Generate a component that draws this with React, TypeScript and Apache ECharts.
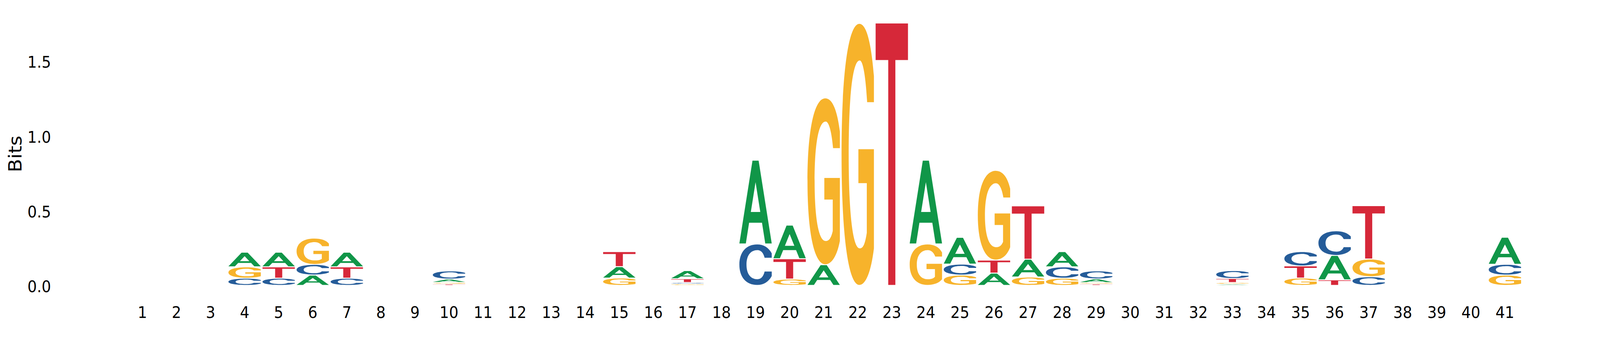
import React, { useEffect, useRef, useState } from "react";
import * as echarts from "echarts";

// Sequence positions (x categories)
const positions = [
  1, 2, 3, 4, 5, 6, 7, 8, 9, 10, 11, 12, 13, 14, 15, 16, 17, 18, 19, 20, 21,
  22, 23, 24, 25, 26, 27, 28, 29, 30, 31, 32, 33, 34, 35, 36, 37, 38, 39, 40, 41,
];

// Information content (bits) per letter per position
const bitsA = [
  0, 0, 0, 0.098, 0.098, 0.069, 0.098, 0, 0, 0.022, 0, 0, 0, 0, 0.076, 0, 0.055, 0, 0.56, 0.225, 0.138,
  0, 0, 0.56, 0.179, 0.082, 0.119, 0.102, 0.024, 0, 0, 0, 0.008, 0, 0, 0.163, 0, 0, 0, 0, 0.181,
];
const bitsC = [
  0, 0, 0, 0.048, 0.048, 0.071, 0.048, 0, 0, 0.055, 0, 0, 0, 0, 0, 0, 0.01, 0, 0.277, 0, 0,
  0, 0, 0, 0.073, 0, 0, 0.076, 0.054, 0, 0, 0, 0.053, 0, 0.096, 0.165, 0.058, 0, 0, 0, 0.072,
];
const bitsG = [
  0, 0, 0, 0.076, 0, 0.176, 0, 0, 0, 0.011, 0, 0, 0, 0, 0.049, 0, 0.009, 0, 0, 0.042, 1.116,
  1.752, 0, 0.277, 0.069, 0.6, 0.056, 0.048, 0.01, 0, 0, 0, 0.011, 0, 0.049, 0, 0.118, 0, 0, 0, 0.069,
];
const bitsT = [
  0, 0, 0, 0, 0.076, 0, 0.076, 0, 0, 0.009, 0, 0, 0, 0, 0.101, 0, 0.025, 0, 0, 0.136, 0,
  0, 1.755, 0, 0, 0.087, 0.357, 0, 0.009, 0, 0, 0, 0.027, 0, 0.081, 0.037, 0.357, 0, 0, 0, 0,
];

const yTicks = [0, 0.5, 1.0, 1.5];
const yTickLabels = ["0.0", "0.5", "1.0", "1.5"];
const yMax = 1.755;
const yAxisTitle = "Bits";

const letters = ["A", "C", "G", "T"];
const letterColors = ["#109648", "#255C99", "#F7B32B", "#D62839"];

// Glyph outlines in a 100x100 box (stretched to fill each letter's slot)
const GLYPHS: Record<string, string> = {
  A: "M0,100 L40.5,0 L59.5,0 L100,100 L80,100 L69.9,75 L30.1,75 L20,100 Z M35.4,62 L64.6,62 L50,26 Z",
  C:
    "M100,22 C90,7 74,0 55,0 C20,0 0,20 0,50 C0,80 20,100 55,100 C74,100 90,93 100,78 " +
    "L100,67 L78,67 C74,80 66,86 56,86 C35,86 22,73 22,50 C22,27 35,14 56,14 C66,14 74,20 78,33 L100,33 Z",
  G:
    "M100,20 C91,6 75,0 55,0 C20,0 0,20 0,50 C0,80 20,100 55,100 C75,100 91,95 100,86 " +
    "L100,48 L52,48 L52,61 L78,61 L78,80 C72,85 65,86 56,86 C35,86 22,73 22,50 C22,27 35,14 56,14 " +
    "C67,14 75,21 79,30 L100,30 Z",
  T: "M0,0 L100,0 L100,14 L61,14 L61,100 L39,100 L39,14 L0,14 Z",
};

const FONT = "DejaVu Sans";

function buildData() {
  const out: number[][] = [];
  const cols = [bitsA, bitsC, bitsG, bitsT];
  positions.forEach((p, i) => {
    const stack = cols
      .map((arr, li) => ({ li, h: arr[i] }))
      .filter((d) => d.h > 0)
      .sort((a, b) => a.h - b.h);
    let y = 0;
    stack.forEach((d) => {
      out.push([p, y, y + d.h, d.li]);
      y += d.h;
    });
  });
  return out;
}

export default function App() {
  const ref = useRef<HTMLDivElement>(null);
  const [size] = useState(() => ({
    w: (typeof window !== "undefined" && window.innerWidth) || 4500,
    h: (typeof window !== "undefined" && window.innerHeight) || 900,
  }));
  useEffect(() => {
    if (!ref.current) return;
    const kx = size.w / 4500;
    const ky = size.h / 900;
    const chart = echarts.init(ref.current, null, { renderer: "svg" });
    const data = buildData();
    chart.setOption({
      animation: false,
      backgroundColor: "#ffffff",
      grid: { left: 209 * kx, right: 171.6 * kx, top: 58.1 * ky, bottom: 171 * ky, containLabel: false },
      xAxis: {
        type: "value",
        min: -1,
        max: 42,
        interval: 1,
        axisLine: { show: false },
        axisTick: { show: false },
        splitLine: { show: false },
        axisLabel: { show: false },
      },
      yAxis: {
        type: "value",
        min: 0,
        max: yMax,
        interval: 0.5,
        axisLine: { show: false },
        axisTick: { show: false },
        splitLine: { show: false },
        axisLabel: { show: false },
      },
      series: [
        {
          type: "custom",
          clip: false,
          encode: { x: 0, y: [1, 2] },
          data,
          renderItem: (params: any, api: any) => {
            const x = api.value(0);
            const y0 = api.value(1);
            const y1 = api.value(2);
            const li = api.value(3);
            const bl = api.coord([x - 0.475, y0]);
            const tr = api.coord([x + 0.475, y1]);
            const bottom = bl[1] - 0.6 * ky;
            let top = tr[1] + 1.8 * ky;
            if (bottom - top < 0.9 * ky) top = bottom - 0.9 * ky;
            return {
              type: "path",
              shape: {
                pathData: GLYPHS[letters[li]],
                x: bl[0],
                y: top,
                width: tr[0] - bl[0],
                height: bottom - top,
                layout: "cover",
              },
              style: { fill: letterColors[li] },
            };
          },
        },
      ],
    });

    // Axis texts drawn through the axes' own scales, kept at the reference's proportions
    const graphics: any[] = [];
    positions.forEach((p) => {
      const px = chart.convertToPixel({ gridIndex: 0 }, [p, 0]) as number[];
      graphics.push({
        type: "text",
        silent: true,
        x: px[0],
        y: px[1] + 69 * ky,
        scaleX: kx,
        style: {
          text: String(p),
          fontSize: 41.7 * ky,
          fontFamily: FONT,
          fill: "#000",
          align: "center",
          verticalAlign: "middle",
        },
      });
    });
    yTicks.forEach((t, i) => {
      const py = chart.convertToPixel({ gridIndex: 0 }, [0, t]) as number[];
      graphics.push({
        type: "text",
        silent: true,
        x: 143.5 * kx,
        y: py[1] + 3.2 * ky,
        scaleX: kx,
        style: {
          text: yTickLabels[i],
          fontSize: 41.7 * ky,
          fontFamily: FONT,
          fill: "#000",
          align: "right",
          verticalAlign: "middle",
        },
      });
    });
    const mid = chart.convertToPixel({ gridIndex: 0 }, [0, yMax / 2]) as number[];
    graphics.push({
      type: "text",
      silent: true,
      x: 43 * kx,
      y: mid[1],
      rotation: Math.PI / 2,
      scaleY: kx,
      style: {
        text: yAxisTitle,
        fontSize: 50 * ky,
        fontFamily: FONT,
        fill: "#000",
        align: "center",
        verticalAlign: "middle",
      },
    });
    chart.setOption({ graphic: graphics });

    return () => chart.dispose();
  }, [size]);
  return (
    <div
      ref={ref}
      style={{ position: "absolute", left: 0, top: 0, width: size.w, height: size.h, background: "#fff" }}
    />
  );
}
